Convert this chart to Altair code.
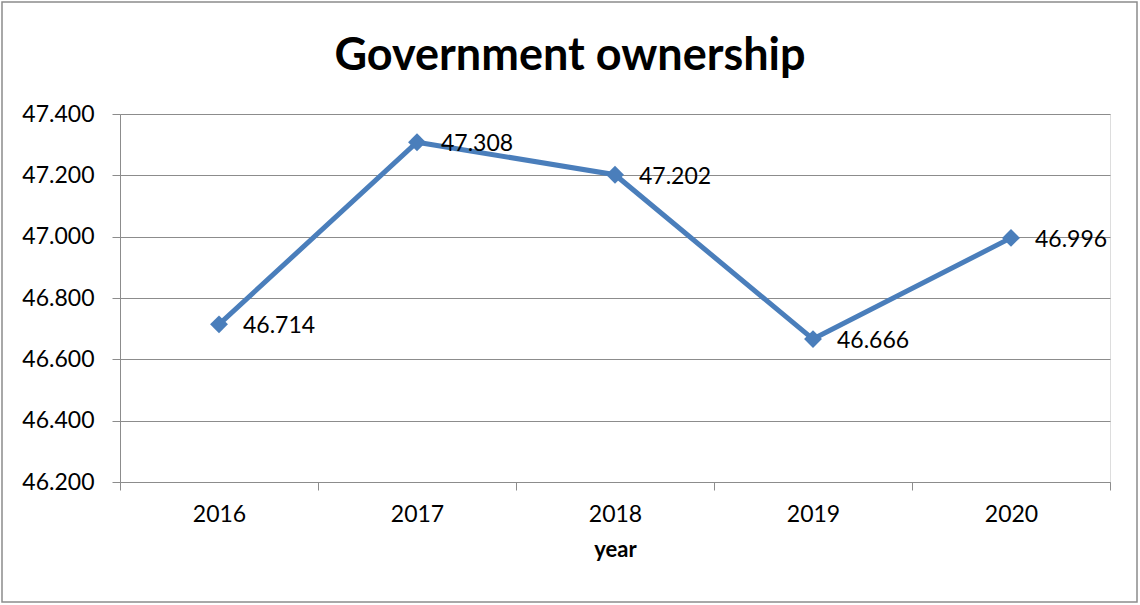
import altair as alt
import pandas as pd

years = ["2016", "2017", "2018", "2019", "2020"]
values = [46.714, 47.308, 47.202, 46.666, 46.996]
labels = ["46.714", "47.308", "47.202", "46.666", "46.996"]
title_text = "Government ownership"

df = pd.DataFrame({"year": years, "value": values, "label": labels})

FONT = "Lato"
GRAY = "#8c8c8c"
BLUE = "#4a7ebb"
FS = 23

x_enc = alt.X("year:N", title="year", sort=years,
              scale=alt.Scale(paddingInner=0, paddingOuter=0),
              axis=alt.Axis(labelAngle=0, tickBand="extent", grid=False,
                            domainColor=GRAY, tickColor=GRAY, tickSize=8,
                            labelPadding=13, labelFontSize=FS, labelFont=FONT,
                            labelColor="black", titleFont=FONT, titleFontSize=22,
                            titleFontWeight="bold", titleColor="black", titlePadding=13))
y_enc = alt.Y("value:Q", title=None,
              scale=alt.Scale(domain=[46.2, 47.4], nice=False, zero=False),
              axis=alt.Axis(values=[46.2, 46.4, 46.6, 46.8, 47.0, 47.2, 47.4],
                            format=".3f", grid=True, gridColor=GRAY, gridWidth=1.2,
                            domainColor=GRAY, tickColor=GRAY, tickSize=8,
                            labelPadding=18, labelFontSize=FS, labelFont=FONT,
                            labelColor="black"))

base = alt.Chart(df)

line = base.mark_line(color=BLUE, strokeWidth=5).encode(x=x_enc, y=y_enc)
pts = base.mark_point(shape="diamond", filled=True, color=BLUE, size=320, opacity=1).encode(
    x=alt.X("year:N", sort=years), y="value:Q")
txt = base.mark_text(align="left", baseline="middle", dx=24, dy=2, fontSize=FS,
                     font=FONT, color="black").encode(
    x=alt.X("year:N", sort=years), y="value:Q", text="label:N")

border = alt.Chart(pd.DataFrame({"a": [0]})).mark_rect(
    fill=None, stroke=GRAY, strokeWidth=1.5).encode(
    x=alt.value(-118), x2=alt.value(1137 - 120), y=alt.value(-112), y2=alt.value(602 - 114))

title = alt.Chart(pd.DataFrame({"t": [title_text]})).mark_text(
    align="center", baseline="alphabetic", fontSize=45, font=FONT,
    fontWeight="bold", color="black").encode(
    x=alt.value(450), y=alt.value(-44), text="t:N")

chart = alt.layer(line, pts, txt, border, title).properties(
    width=990, height=368,
    autosize=alt.AutoSizeParams(type="none"),
    padding={"left": 120, "top": 114, "right": 30, "bottom": 123},
).configure_view(stroke=None).configure(background="white")

chart.save("out.html", embed_options={"renderer": "svg", "actions": False})
